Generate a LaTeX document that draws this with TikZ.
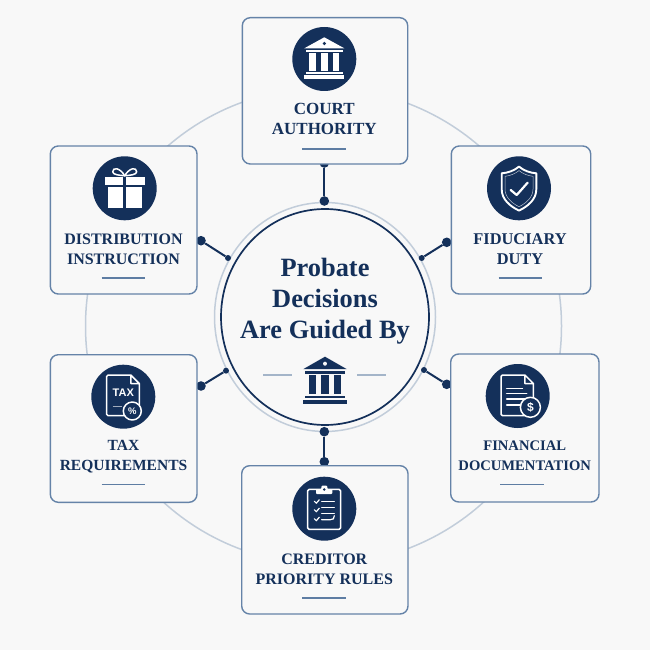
\documentclass[tikz,border=0pt]{standalone}
\usepackage{fontspec}
\setmainfont{Liberation Serif}
\newfontfamily\iconfont{Liberation Sans}
\definecolor{navy}{HTML}{14305A}
\definecolor{paper}{HTML}{F8F8F8}
\definecolor{edge}{HTML}{6583A8}
\definecolor{ring}{HTML}{C2CDDA}
\definecolor{rulecol}{HTML}{5E7DA3}
\tikzset{
  cardbox/.style={draw=edge,line width=1.4pt,fill=paper,rounded corners=8pt,inner sep=0pt,minimum width=#1},
  iconbg/.style={circle,fill=navy,minimum size=64pt,inner sep=0pt},
  bigdot/.style={circle,fill=navy,minimum size=9.6pt,inner sep=0pt},
  smalldot/.style={circle,fill=navy,minimum size=6pt,inner sep=0pt},
  link/.style={draw=navy,line width=2pt},
  cardlabel/.style={text=navy,align=center,inner sep=0pt,font=\bfseries\fontsize{#1}{20}\selectfont},
  titlelabel/.style={text=navy,align=center,inner sep=0pt,font=\bfseries\fontsize{26.4}{31}\selectfont},
  cardrule/.style={draw=rulecol,line width=1.3pt},
  ringline/.style={draw=ring,line width=1.5pt},
  ico/.style={draw=white,line width=1.5pt,line join=round,line cap=round},
}
\newcommand{\bankglyph}[2]{%
  \fill[#1] (0,-21.7) -- (20,-10.7) -- (-20,-10.7) -- cycle;
  \fill[#2] (0,-15.5) circle[radius=1.8pt];
  \fill[#1] (-18.3,-9) rectangle (18.3,-6.7);
  \fill[#1] (-15,-5.7) rectangle (-8.3,11.7);
  \fill[#1] (-3.4,-5.7) rectangle (3.4,11.7);
  \fill[#1] (8.3,-5.7) rectangle (15,11.7);
  \fill[#1] (-18.3,12.9) rectangle (18.3,14.7);
  \fill[#1] (-20,16.3) rectangle (20,20);
}
\newcommand{\giftglyph}{%
  \fill[white] (-19.3,-11.7) rectangle (-1.3,-3);
  \fill[white] (1.3,-11.7) rectangle (20,-3);
  \fill[white] (-17,-1.7) rectangle (-1.3,20);
  \fill[white] (1.3,-1.7) rectangle (17,20);
  \draw[ico] (0,-12.5) .. controls (-4,-20) and (-12,-22) .. (-12,-16.5) .. controls (-12,-13.5) and (-5,-13) .. (0,-12.5);
  \draw[ico] (0,-12.5) .. controls (4,-20) and (12,-22) .. (12,-16.5) .. controls (12,-13.5) and (5,-13) .. (0,-12.5);
}
\newcommand{\shieldglyph}{%
  \draw[ico,line width=1.9pt] (0,-21.7) .. controls (-5,-17.5) and (-11,-15.5) .. (-17.3,-15) -- (-17.3,1) .. controls (-17.3,11) and (-9,18) .. (0,22.3) .. controls (9,18) and (17.3,11) .. (17.3,1) -- (17.3,-15) .. controls (11,-15.5) and (5,-17.5) .. (0,-21.7) -- cycle;
  \draw[ico,line width=.5pt,white!70!navy] (0,-17.7) .. controls (-4,-14.5) and (-9,-12.5) .. (-14,-12) -- (-14,1) .. controls (-14,9) and (-7,15) .. (0,18.4) .. controls (7,15) and (14,9) .. (14,1) -- (14,-12) .. controls (9,-12.5) and (4,-14.5) .. (0,-17.7) -- cycle;
  \draw[ico,line width=2.2pt] (-8.3,1.7) -- (-2.3,6.7) -- (8.7,-5.7);
}
\newcommand{\docglyph}[4]{% left, right, top, bottom
  \draw[ico] (#2-8.5,#3) -- (#1+1.5,#3) -- (#1,#3+1.5) -- (#1,#4-1.5) -- (#1+1.5,#4) -- (#2-1.5,#4) -- (#2,#4-1.5) -- (#2,#3+8.5) -- (#2-8.5,#3) -- (#2-8.5,#3+8.5) -- (#2,#3+8.5);
}
\newcommand{\taxglyph}{%
  \docglyph{-16.7}{16}{-21.7}{19}
  \node[text=white,font=\iconfont\bfseries\fontsize{11}{11}\selectfont,inner sep=0pt] (taxword) at (0,-4) {TAX};
  \draw[draw=white!60!navy,line width=.8pt] (-10.7,9.3) -- (-1.7,9.3);
  \draw[ico,fill=navy] (9,14.3) circle[radius=9pt];
  \node[text=white,font=\iconfont\bfseries\fontsize{9.5}{9.5}\selectfont,inner sep=0pt] (taxpct) at (9,14.3) {\%};
}
\newcommand{\finglyph}{%
  \docglyph{-16.7}{15.7}{-21}{19.7}
  \draw[ico] (-11,-7.7) -- (4.7,-7.7);
  \draw[ico] (-11,-2.5) -- (9,-2.5);
  \draw[ico] (-11,3) -- (9,3);
  \draw[ico] (-11,9) -- (2.3,9);
  \draw[ico,fill=navy] (12.7,11.3) circle[radius=10pt];
  \node[text=white,font=\iconfont\bfseries\fontsize{12}{12}\selectfont,inner sep=0pt] (findollar) at (12.7,11.3) {\$};
}
\newcommand{\clipglyph}{%
  \draw[ico,rounded corners=1.5pt] (-16.7,-19.3) rectangle (16.3,20.7);
  \fill[white,rounded corners=1pt] (-8.3,-19.5) -- (-3,-19.5) -- (-3,-23) -- (3,-23) -- (3,-19.5) -- (8,-19.5) -- (8,-14.7) -- (-8.3,-14.7) -- cycle;
  \fill[navy] (0,-19.2) circle[radius=1.4pt];
  \draw[ico,line width=1.2pt] (-10,-7.5) -- (-8,-5.5) -- (-5,-9);
  \draw[ico,line width=1.2pt] (-10,1) -- (-8,3) -- (-5,-.5);
  \draw[ico,line width=1.2pt] (-10,10) -- (-8,12) -- (-5,8.5);
  \draw[ico,line width=1.2pt] (-2.7,-7.5) -- (10,-7.5);
  \draw[ico,line width=1.2pt] (-2.7,-1) -- (10,-1);
  \draw[ico,line width=1.2pt] (-2.7,4.5) -- (10,4.5);
  \draw[ico,line width=1.2pt] (-2.7,11) -- (6,11) .. controls (9,11) and (10,10) .. (10,7);
}
\begin{document}
\begin{tikzpicture}[x=1pt,y=-1pt]
\useasboundingbox (0,0) rectangle (650,650);
\fill[paper] (0,0) rectangle (650,650);
% outer ring
\coordinate (hub) at (325,317);
\draw[ringline] (323.5,326) circle[radius=238pt];
% hub
\draw[ringline,fill=paper] (hub) ellipse[x radius=110.5pt,y radius=114.5pt];
\draw[draw=navy,line width=1.7pt] (hub) ellipse[x radius=104pt,y radius=108pt];
% connector ends
\node[bigdot] (a1) at (324.3,163) {};
\node[bigdot] (a2) at (324.3,201) {};
\node[bigdot] (b1) at (201,240.7) {};
\node[smalldot] (b2) at (228,258) {};
\node[bigdot] (c1) at (446.7,242.3) {};
\node[smalldot] (c2) at (421.7,258) {};
\node[bigdot] (d1) at (201,386) {};
\node[smalldot] (d2) at (226,370.7) {};
\node[bigdot] (e1) at (446.7,384.3) {};
\node[smalldot] (e2) at (424,370) {};
\node[bigdot] (f1) at (324.3,461.7) {};
\node[bigdot] (f2) at (324.3,431.7) {};
\draw[link] (a1) -- (a2);
\draw[link] (b1) -- (b2);
\draw[link] (c1) -- (c2);
\draw[link] (d1) -- (d2);
\draw[link] (e1) -- (e2);
\draw[link] (f1) -- (f2);
% cards
\node[cardbox=165.4pt,minimum height=146.3pt] (court) at (325,90.85) {};
\node[cardbox=146.7pt,minimum height=148pt] (dist) at (123.65,220) {};
\node[cardbox=139.4pt,minimum height=148pt] (fid) at (521,220) {};
\node[cardbox=146.7pt,minimum height=147.6pt] (tax) at (123.65,428.5) {};
\node[cardbox=148.3pt,minimum height=148pt] (fin) at (524.85,428) {};
\node[cardbox=166.3pt,minimum height=148.3pt] (cred) at (324.85,539.85) {};
% icon discs
\node[iconbg] (icourt) at (324.3,59) {};
\node[iconbg] (idist) at (124.7,188.3) {};
\node[iconbg] (ifid) at (519,188.3) {};
\node[iconbg] (itax) at (123.3,396.7) {};
\node[iconbg] (ifin) at (517.7,396) {};
\node[iconbg] (icred) at (324.3,508.7) {};
\begin{scope}[shift={(icourt.center)}]\bankglyph{white}{navy}\end{scope}
\begin{scope}[shift={(idist.center)}]\giftglyph\end{scope}
\begin{scope}[shift={(ifid.center)}]\shieldglyph\end{scope}
\begin{scope}[shift={(itax.center)}]\taxglyph\end{scope}
\begin{scope}[shift={(ifin.center)}]\finglyph\end{scope}
\begin{scope}[shift={(icred.center)}]\clipglyph\end{scope}
% labels
\node[cardlabel=17] (lcourt) at (324.3,119) {COURT\\AUTHORITY};
\node[cardlabel=16] (ldist) at (123.5,249) {DISTRIBUTION\\INSTRUCTION};
\node[cardlabel=16.4] (lfid) at (520,249) {FIDUCIARY\\DUTY};
\node[cardlabel=15.5] (ltax) at (123.5,456.5) {TAX\\REQUIREMENTS};
\node[cardlabel=14.6] (lfin) at (524.7,456) {FINANCIAL\\DOCUMENTATION};
\node[cardlabel=16] (lcred) at (324.3,569) {CREDITOR\\PRIORITY RULES};
% small rules
\draw[cardrule] (302.3,149) -- (346,149);
\draw[cardrule] (101.7,278) -- (145.3,278);
\draw[cardrule] (498.7,278) -- (542.3,278);
\draw[cardrule] (101.7,484.7) -- (145.3,484.7);
\draw[cardrule] (500.3,484.7) -- (544,484.7);
\draw[cardrule] (302.3,598) -- (346,598);
% hub text
\node[titlelabel] (title) at (325,301.5) {Probate\\Decisions\\Are Guided By};
\draw[draw=ring!70!rulecol,line width=1.2pt] (263.3,375) -- (292,375);
\draw[draw=ring!70!rulecol,line width=1.2pt] (357.3,375) -- (386,375);
\begin{scope}[shift={(325,381.2)},xscale=1.085,yscale=1.13]\bankglyph{navy}{paper}\end{scope}
\end{tikzpicture}
\end{document}
